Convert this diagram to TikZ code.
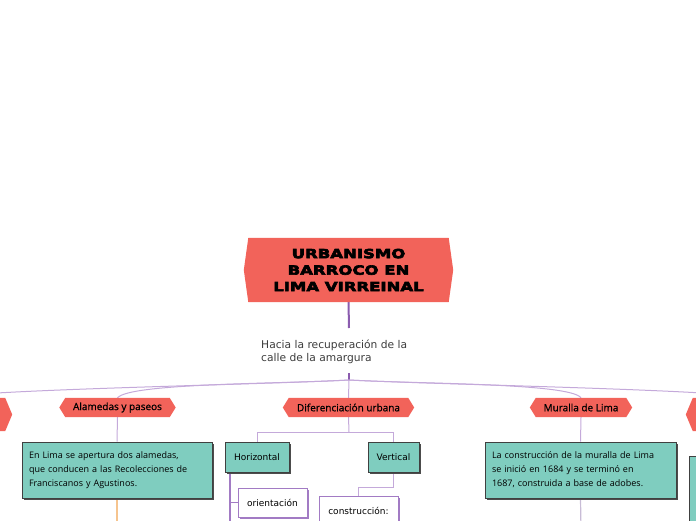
\documentclass[tikz,border=0pt]{standalone}
\usepackage{fontspec}
\usetikzlibrary{shadows}
\newfontfamily\titlefont[FakeBold=5,FakeStretch=1.32]{DejaVu Sans Bold}
\newfontfamily\labfont{Open Sans}
\newfontfamily\hexfont[FakeBold=0.8]{Open Sans}
\newfontfamily\dvs{DejaVu Sans}
\definecolor{nodered}{HTML}{F2635A}
\definecolor{tealbox}{HTML}{7FCDBF}
\definecolor{purp}{HTML}{8B5CAF}
\definecolor{lpurp}{HTML}{C4A9DA}
\definecolor{mpurp}{HTML}{A27BC4}
\definecolor{orng}{HTML}{F6C48E}
\definecolor{txtgrey}{HTML}{3C3C3C}
\definecolor{gpurp}{HTML}{C8BCD6}
\pgfdeclarelayer{background}
\pgfsetlayers{background,main}
\newcommand\hexfill[2]{\fill[nodered] (#1.west) -- ([xshift=#2]#1.north west) -- ([xshift=-#2]#1.north east) -- (#1.east) -- ([xshift=-#2]#1.south east) -- ([xshift=#2]#1.south west) -- cycle;}
\tikzset{
  hexlabel/.style={inner sep=0pt, minimum height=19pt, font=\hexfont\fontsize{10}{12}\selectfont, text=black},
  tealnote/.style={draw=black!75, line width=0.6pt, fill=tealbox, inner sep=0pt, align=left,
    general shadow={fill=black!70, shadow xshift=2pt, shadow yshift=-2pt},
    font=\labfont\fontsize{9}{14}\selectfont},
  tealsmall/.style={draw=black!75, line width=0.6pt, fill=tealbox, inner sep=0pt,
    general shadow={fill=black!70, shadow xshift=2pt, shadow yshift=-2pt},
    font=\dvs\fontsize{9}{11}\selectfont},
  whitebox/.style={draw=mpurp, line width=0.8pt, fill=white, inner sep=0pt,
    general shadow={fill=mpurp, shadow xshift=2pt, shadow yshift=-2pt},
    font=\dvs\fontsize{9}{11}\selectfont},
  thinline/.style={lpurp, line width=1pt},
}
\begin{document}
\begin{tikzpicture}[x=1pt,y=-1pt]
\useasboundingbox (0,0) rectangle (696,520);
% nodes
\node[inner sep=0pt, minimum width=209pt, minimum height=64pt, align=center,
  font=\titlefont\fontsize{12.5}{16.5}\selectfont] (root) at (348.5,270)
  {URBANISMO\\BARROCO EN\\LIMA VIRREINAL};
\node[anchor=west, inner sep=0pt, align=left, text=txtgrey,
  font=\dvs\fontsize{10.7}{13}\selectfont] (sub) at (261,351.5)
  {Hacia la recuperación de la\\calle de la amargura};
\node[hexlabel, minimum width=116pt] (ala) at (117.5,407.5) {Alamedas y paseos};
\node[hexlabel, minimum width=131pt] (dif) at (348.5,407.5) {Diferenciación urbana};
\node[hexlabel, minimum width=102pt] (mur) at (581,407.5) {Muralla de Lima};
\node[hexlabel, minimum width=144pt, minimum height=33pt] (lft) at (-60,414.5) {};
\node[hexlabel, minimum width=144pt, minimum height=33pt] (rgt) at (758,414.5) {};

\node[tealnote, minimum width=190pt, minimum height=56pt, text width=176pt] (alabox) at (117,470)
  {En Lima se apertura dos alamedas,\\que conducen a las Recolecciones de\\Franciscanos y Agustinos.};
\node[tealnote, minimum width=191pt, minimum height=56pt, text width=177pt] (murbox) at (580.5,470)
  {La construcción de la muralla de Lima\\se inició en 1684 y se terminó en\\1687, construida a base de adobes.};
\node[tealnote, minimum width=190pt, minimum height=68pt, text width=176pt] (rbox) at (784,490) {};

\node[tealsmall, minimum width=64pt, minimum height=30pt] (hor) at (257,457) {Horizontal};
\node[tealsmall, minimum width=51pt, minimum height=30pt] (ver) at (393.5,457) {Vertical};
\node[whitebox, minimum width=69pt, minimum height=29pt] (ori) at (272.5,502.5) {orientación};
\node[whitebox, minimum width=79pt, minimum height=30pt] (con) at (358.5,511) {construcción:};

\coordinate (s1) at (349,328);
\coordinate (J0) at (349,373);
\coordinate (J) at (349,380);
\coordinate (d1) at (349,432);
\coordinate (h0) at (230,472);
\coordinate (h1) at (230,530);
\coordinate (a2) at (117,530);
\coordinate (m2) at (581,530);

\begin{pgfonlayer}{background}
\draw[purp, line width=2pt] (root.south) -- (s1);
\draw[purp, line width=1.8pt] (J0) -- (J);
\draw[thinline] (J) .. controls (250,385) and (0,389) .. (lft.north);
\draw[thinline] (J) .. controls (280,384) and (130,383) .. (ala.north);
\draw[thinline] (J) -- (dif.north);
\draw[thinline] (J) .. controls (420,384) and (570,383) .. (mur.north);
\draw[thinline] (J) .. controls (450,385) and (700,389) .. (rgt.north);
\draw[thinline] (dif.south) -- (d1);
\draw[thinline] (hor.north) -- (hor.north |- d1) -- (ver.north |- d1) -- (ver.north);
\draw[thinline] (ver.south) -- ++(0,15) -| (con.north);
\draw[mpurp, line width=1.6pt] (h0) -- (h1);
\draw[mpurp, line width=1.2pt] (h0 |- ori.west) -- (ori.west);
\draw[thinline] (ala.south) -- (alabox.north);
\draw[thinline] (mur.south) -- (murbox.north);
\draw[orng, line width=1.2pt] (alabox.south) -- (a2);
\draw[gpurp, line width=1.2pt] (murbox.south) -- (m2);
\hexfill{root}{4.5pt}
\hexfill{ala}{6pt}
\hexfill{dif}{6pt}
\hexfill{mur}{6pt}
\hexfill{lft}{7pt}
\hexfill{rgt}{7pt}
\end{pgfonlayer}
\end{tikzpicture}
\end{document}
